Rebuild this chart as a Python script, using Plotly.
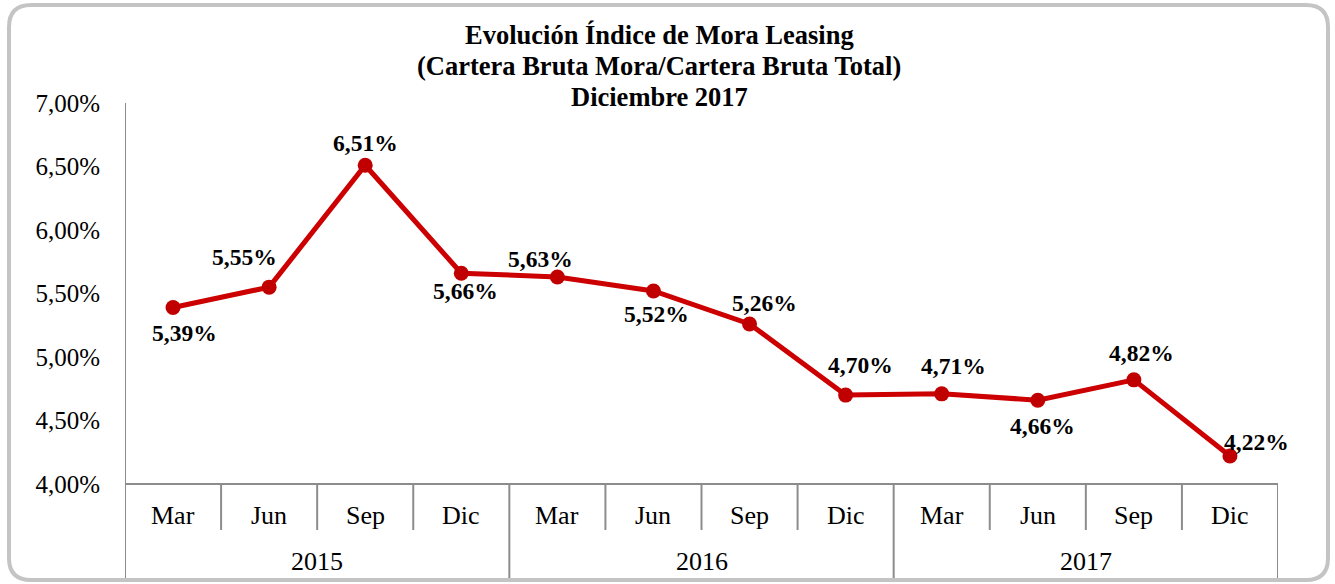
import plotly.graph_objects as go

# ---- data ----
years = ["2015", "2016", "2017"]
months = ["Mar", "Jun", "Sep", "Dic"]
values = [5.39, 5.55, 6.51, 5.66, 5.63, 5.52, 5.26, 4.70, 4.71, 4.66, 4.82, 4.22]
y_ticks = [4.0, 4.5, 5.0, 5.5, 6.0, 6.5, 7.0]
title_lines = ["Evolución Índice de Mora Leasing",
               "(Cartera Bruta Mora/Cartera Bruta Total)",
               "Diciembre 2017"]

# label placement style (pixel offsets of each data label from its point)
label_dx = [11, -25, 0, 4, -17, 3, 15, 15, 12, 5, 8, 27]
label_dy = [26, -30, -22, 18, -18, 23, -21, -30, -28, 26, -27, -14]

W, H = 1335, 584
L, R, T, B = 125, 57, 103, 100
PW, PH = W - L - R, H - T - B

FONT = "Liberation Serif, Times New Roman, serif"
LINE_RED = "#CC0000"
MARK_RED = "#C00000"
GRAY = "#8C8C8C"

n = len(values)
xs = list(range(n))

fig = go.Figure()
fig.add_trace(go.Scatter(
    x=xs, y=values, mode="lines+markers",
    line=dict(color=LINE_RED, width=5),
    marker=dict(color=MARK_RED, size=15, line=dict(width=0)),
    hoverinfo="skip", showlegend=False,
))

def fmt(v):
    return f"{v:.2f}".replace(".", ",") + "%"

annotations = []
for i, v in enumerate(values):
    annotations.append(dict(
        x=i, y=v, xref="x", yref="y", text=f"<b>{fmt(v)}</b>",
        showarrow=False, xshift=label_dx[i], yshift=-label_dy[i],
        font=dict(family=FONT, size=23.5, color="black"),
        xanchor="center", yanchor="middle",
    ))

def py(pix):  # pixel y -> paper y
    return (H - B - pix) / PH

def px(pix):  # pixel x -> paper x
    return (pix - L) / PW

# month labels
for i in range(n):
    annotations.append(dict(
        x=i, y=py(515), xref="x", yref="paper", text=months[i % 4],
        showarrow=False, font=dict(family=FONT, size=26, color="black"),
        xanchor="center", yanchor="middle",
    ))
# year labels
for j, yr in enumerate(years):
    annotations.append(dict(
        x=j * 4 + 1.5, y=py(561), xref="x", yref="paper", text=yr,
        showarrow=False, font=dict(family=FONT, size=26, color="black"),
        xanchor="center", yanchor="middle",
    ))
# title (three lines)
for t, yy in zip(title_lines, [35, 66, 97]):
    annotations.append(dict(
        x=px(659), y=py(yy), xref="paper", yref="paper",
        text=f"<b>{t}</b>",
        showarrow=False, font=dict(family=FONT, size=26.5, color="black"),
        xanchor="center", yanchor="middle", align="center",
    ))

shapes = []
# horizontal axis line
shapes.append(dict(type="line", xref="x", yref="paper", x0=-0.5, x1=n - 0.5,
                   y0=0, y1=0, line=dict(color=GRAY, width=2)))
# separators
for k in range(n + 1):
    b = k - 0.5
    full = (k % 4 == 0)
    shapes.append(dict(type="line", xref="x", yref="paper", x0=b, x1=b,
                       y0=0 if k else 1, y1=py(578) if full else py(530),
                       line=dict(color=GRAY, width=2)))

# rounded border
x0, x1, y0, y1, r = 9, 1328, 5, 580, 22
path = (f"M {px(x0 + r)},{py(y0)} L {px(x1 - r)},{py(y0)} "
        f"Q {px(x1)},{py(y0)} {px(x1)},{py(y0 + r)} "
        f"L {px(x1)},{py(y1 - r)} Q {px(x1)},{py(y1)} {px(x1 - r)},{py(y1)} "
        f"L {px(x0 + r)},{py(y1)} Q {px(x0)},{py(y1)} {px(x0)},{py(y1 - r)} "
        f"L {px(x0)},{py(y0 + r)} Q {px(x0)},{py(y0)} {px(x0 + r)},{py(y0)} Z")
shapes.append(dict(type="path", xref="paper", yref="paper", path=path,
                   line=dict(color="#C4C4C4", width=4), layer="below"))

fig.update_layout(
    width=W, height=H,
    margin=dict(l=L, r=R, t=T, b=B),
    paper_bgcolor="white", plot_bgcolor="white",
    annotations=annotations, shapes=shapes,
    font=dict(family=FONT, color="black"),
    xaxis=dict(range=[-0.5, n - 0.5], showgrid=False, zeroline=False,
               showticklabels=False, showline=False, fixedrange=True),
    yaxis=dict(range=[4.0, 7.0], tickvals=y_ticks,
               ticktext=[fmt(v) for v in y_ticks],
               showgrid=False, zeroline=False, showline=False,
               ticks="", ticklabelstandoff=24,
               tickfont=dict(family=FONT, size=25, color="black"),
               fixedrange=True),
)

fig.write_html("out.html", config={"displayModeBar": False})

# remove default page margin so the figure sits at the window origin
with open("out.html", "r", encoding="utf-8") as f:
    html = f.read()
html = html.replace("<head>", "<head><style>html,body{margin:0;padding:0;overflow:hidden}</style>", 1)
with open("out.html", "w", encoding="utf-8") as f:
    f.write(html)
